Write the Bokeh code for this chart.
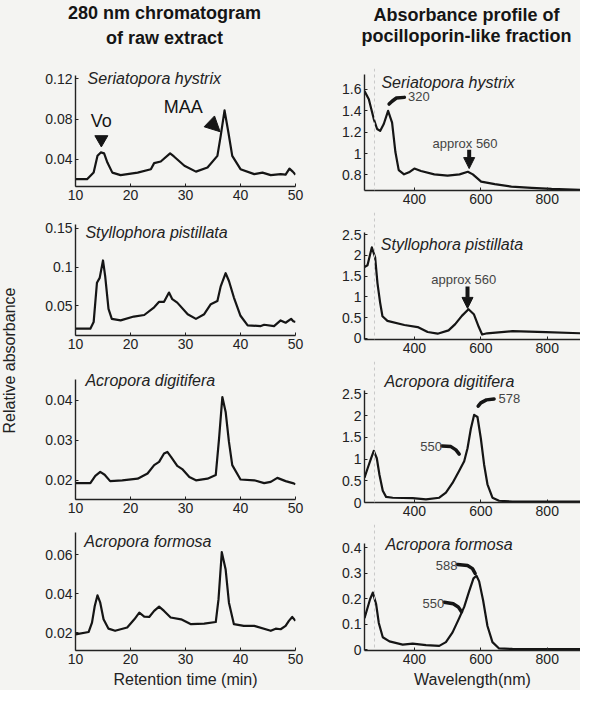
import math
from bokeh.plotting import figure
from bokeh.layouts import column, row
from bokeh.models import Range1d, FixedTicker, CustomJSTickFormatter, Label, Arrow, NormalHead, Span
from bokeh.embed import file_html
from bokeh.resources import INLINE
from bokeh.core.properties import value

BG = "#f4f4f2"
INK = "#151515"
FONT = "Liberation Sans"

# ---------------- data: 280 nm chromatograms (retention time, min) ----------------
sh_time = [10, 12.1, 13.3, 14.0, 14.6, 15.2, 15.8, 16.7, 18.2, 21.3, 23.7, 24.3, 25.5, 27.2, 27.9,
           29.8, 31.9, 34.0, 35.8, 36.4, 37.1, 37.8, 38.5, 40.0, 42.5, 44.0, 45.5, 47.3, 48.2, 48.9, 49.5, 50]
sh_abs = [0.0205, 0.0205, 0.0272, 0.0436, 0.047, 0.046, 0.037, 0.027, 0.0245, 0.027, 0.0304, 0.0364, 0.038,
          0.046, 0.043, 0.0338, 0.028, 0.032, 0.0436, 0.0634, 0.0885, 0.0667, 0.0436, 0.0304, 0.0255, 0.027,
          0.0245, 0.0255, 0.025, 0.031, 0.028, 0.025]

sp_time = [10, 12.7, 13.3, 13.9, 14.4, 15.0, 15.4, 16.0, 16.6, 18.2, 20.6, 22.5, 24.3, 25.2, 26.1, 27.0, 27.6,
           28.5, 30.4, 31.9, 33.4, 34.6, 35.8, 36.4, 37.3, 37.9, 38.8, 40.0, 41.3, 43.7, 44.3, 46.1, 47.3, 48.2,
           49.2, 49.6, 50]
sp_abs = [0.0203, 0.0203, 0.0288, 0.0797, 0.086, 0.1085, 0.088, 0.046, 0.033, 0.031, 0.036, 0.038, 0.048, 0.055,
          0.055, 0.067, 0.0585, 0.054, 0.039, 0.033, 0.039, 0.052, 0.056, 0.075, 0.092, 0.082, 0.0606, 0.037,
          0.0246, 0.0237, 0.0254, 0.0237, 0.031, 0.028, 0.033, 0.03, 0.029]

ad_time = [10, 12.7, 13.6, 14.5, 15.3, 16.3, 18.5, 21.3, 23.1, 24.3, 25.2, 26.1, 26.7, 27.4, 28.5, 29.4, 30.7,
           31.9, 34.0, 35.5, 36.1, 36.7, 37.3, 37.9, 38.5, 40.0, 42.5, 44.3, 45.5, 46.7, 48.2, 49.5, 50]
ad_abs = [0.0193, 0.0193, 0.0211, 0.0221, 0.0214, 0.0198, 0.020, 0.0204, 0.0217, 0.0238, 0.0246, 0.0267, 0.0271,
          0.0258, 0.0236, 0.0228, 0.0208, 0.020, 0.0204, 0.0213, 0.0304, 0.0408, 0.0371, 0.0296, 0.0238, 0.0202,
          0.020, 0.0193, 0.0196, 0.0206, 0.0198, 0.0193, 0.019]

af_time = [10, 12.4, 13.0, 13.5, 14.0, 14.5, 15.1, 16.0, 17.2, 19.4, 20.7, 21.6, 22.5, 23.4, 24.3, 25.2, 26.1,
           27.3, 29.2, 31.0, 33.4, 35.5, 36.0, 36.6, 37.3, 37.9, 38.8, 40.6, 42.5, 45.5, 46.4, 47.3, 48.2, 48.8,
           49.4, 50]
af_abs = [0.0191, 0.0203, 0.0251, 0.0336, 0.0391, 0.0353, 0.0268, 0.022, 0.0209, 0.0226, 0.0268, 0.0302, 0.0282,
          0.028, 0.0311, 0.0333, 0.0311, 0.0277, 0.0268, 0.0243, 0.0246, 0.0254, 0.037, 0.0612, 0.0523, 0.0353,
          0.0243, 0.0234, 0.0234, 0.0209, 0.022, 0.0217, 0.0234, 0.026, 0.028, 0.026]

# ---------------- data: absorbance profiles (wavelength, nm) ----------------
sh_wl = [250, 263, 278, 288, 297, 308, 321, 333, 343, 353, 369, 384, 400, 420, 460, 500, 536, 561, 576, 601,
         642, 692, 753, 813, 900]
sh_od = [1.585, 1.508, 1.323, 1.23, 1.212, 1.277, 1.40, 1.29, 1.015, 0.846, 0.806, 0.825, 0.86, 0.837, 0.806,
         0.794, 0.806, 0.83, 0.806, 0.738, 0.714, 0.692, 0.68, 0.67, 0.662]

sp_wl = [250, 259, 272, 282, 289, 297, 304, 319, 370, 410, 440, 470, 503, 523, 543, 563, 579, 594, 604, 619,
         695, 796, 900]
sp_od = [1.72, 1.76, 2.19, 1.95, 1.33, 0.86, 0.53, 0.42, 0.32, 0.27, 0.15, 0.11, 0.19, 0.34, 0.54, 0.70, 0.58,
         0.27, 0.09, 0.12, 0.17, 0.15, 0.12]

ad_wl = [250, 260, 270, 278, 287, 295, 305, 315, 335, 395, 435, 475, 495, 515, 535, 550, 560, 570, 580, 590,
         600, 610, 620, 635, 655, 695, 795, 900]
ad_od = [0.57, 0.80, 1.02, 1.19, 1.02, 0.64, 0.27, 0.13, 0.11, 0.10, 0.07, 0.11, 0.23, 0.45, 0.73, 0.95, 1.25,
         1.70, 2.02, 1.97, 1.48, 0.87, 0.42, 0.11, 0.04, 0.02, 0.02, 0.02]

af_wl = [250, 257, 267, 275, 285, 293, 305, 325, 365, 395, 435, 475, 495, 515, 535, 550, 565, 578, 587, 595,
         607, 620, 635, 655, 695, 900]
af_od = [0.125, 0.156, 0.20, 0.225, 0.18, 0.106, 0.05, 0.034, 0.021, 0.025, 0.019, 0.016, 0.031, 0.069, 0.125,
         0.169, 0.231, 0.281, 0.291, 0.269, 0.194, 0.094, 0.031, 0.006, 0.004, 0.003]

species = ["Seriatopora hystrix", "Styllophora pistillata", "Acropora digitifera", "Acropora formosa"]

# ticks
time_ticks = [10, 20, 30, 40, 50]
time_labels = ["10", "20", "30", "40", "50"]
wl_ticks = [400, 600, 800]
wl_labels = ["400", "600", "800"]
yl_ticks = [[0.04, 0.08, 0.12], [0.05, 0.1, 0.15], [0.02, 0.03, 0.04], [0.02, 0.04, 0.06]]
yl_labels = [["0.04", "0.08", "0.12"], ["0.05", "0.1", "0.15"], ["0.02", "0.03", "0.04"], ["0.02", "0.04", "0.06"]]
yr_ticks = [[0.8, 1.0, 1.2, 1.4, 1.6], [0, 0.5, 1, 1.5, 2, 2.5], [0, 0.5, 1, 1.5, 2, 2.5], [0, 0.1, 0.2, 0.3, 0.4]]
yr_labels = [["0.8", "1", "1.2", "1.4", "1.6"], ["0", "0.5", "1", "1.5", "2", "2.5"],
             ["0", "0.5", "1", "1.5", "2", "2.5"], ["0", "0.1", "0.2", "0.3", "0.4"]]


def fmt(ticks, labels):
    return CustomJSTickFormatter(args=dict(t=ticks, l=labels), code="""
let b = 0;
for (let i = 0; i < t.length; i++) { if (Math.abs(t[i] - tick) < Math.abs(t[b] - tick)) b = i; }
return l[b];""")


def panel(w, h, bt, bb, bl, br, xr, yr, xt, xl, yt, yl):
    # frame extends to the top of the figure; the y axis line stops at yr[1] (bt px below the top)
    fh = h - bt - bb
    ppu = fh / (yr[1] - yr[0])
    ytop = yr[1] + bt / ppu
    p = figure(width=w, height=h, x_range=Range1d(*xr), y_range=Range1d(yr[0], ytop),
               output_backend="svg", toolbar_location=None,
               min_border_top=0, min_border_bottom=bb, min_border_left=bl, min_border_right=br)
    p.background_fill_color = BG
    p.border_fill_color = BG
    p.outline_line_color = None
    p.grid.visible = False
    p.xaxis.ticker = FixedTicker(ticks=xt)
    p.xaxis.formatter = fmt(xt, xl)
    p.yaxis.ticker = FixedTicker(ticks=yt)
    p.yaxis.formatter = fmt(yt, yl)
    p.yaxis.bounds = (yr[0], yr[1])
    for ax in (p.xaxis[0], p.yaxis[0]):
        ax.axis_line_color = "#222222"
        ax.axis_line_width = 1.4
        ax.major_tick_in = 3
        ax.major_tick_out = 0
        ax.major_tick_line_color = "#222222"
        ax.minor_tick_line_color = None
        ax.major_label_text_font = FONT
        ax.major_label_text_font_size = "14px"
        ax.major_label_text_color = "#222222"
        ax.major_label_standoff = 3
    return p


def species_label(p, x, y, text):
    p.add_layout(Label(x=x, y=y, text=text, text_font=FONT, text_font_style="italic",
                       text_font_size="16px", text_color="#222222", text_baseline="middle", text_align="left"))


def note(p, x, y, text, align="left", size="13px"):
    p.add_layout(Label(x=x, y=y, text=text, text_font=FONT, text_font_size=size,
                       text_color="#444444", text_baseline="middle", text_align=align))


def axis_title(p, text):
    p.xaxis.axis_label = text
    p.xaxis.axis_label_text_font = FONT
    p.xaxis.axis_label_text_font_size = "16px"
    p.xaxis.axis_label_text_font_style = "normal"
    p.xaxis.axis_label_text_color = "#222222"
    p.xaxis.axis_label_standoff = 4


def head(size):
    return NormalHead(size=size, fill_color=INK, line_color=INK)


# ---------------- left column ----------------
LW, LBL, LBR = 290, 48, 22
l1 = panel(LW, 140, 7, 22, LBL, LBR, (10, 50), (0.0133, 0.123), time_ticks, time_labels, yl_ticks[0], yl_labels[0])
l2 = panel(LW, 149, 16, 22, LBL, LBR, (10, 50), (0.0115, 0.155), time_ticks, time_labels, yl_ticks[1], yl_labels[1])
l3 = panel(LW, 164, 22, 22, LBL, LBR, (10, 50), (0.0152, 0.0452), time_ticks, time_labels, yl_ticks[2], yl_labels[2])
l4 = panel(LW, 169, 11, 40, LBL, LBR, (10, 50), (0.0108, 0.0713), time_ticks, time_labels, yl_ticks[3], yl_labels[3])
axis_title(l4, "Retention time (min)")

for p, t, a in ((l1, sh_time, sh_abs), (l2, sp_time, sp_abs), (l3, ad_time, ad_abs), (l4, af_time, af_abs)):
    p.line(t, a, line_color=INK, line_width=2.2, line_join="round")

species_label(l1, 12.2, 0.120, species[0])
species_label(l2, 11.8, 0.145, species[1])
species_label(l3, 11.8, 0.0450, species[2])
species_label(l4, 11.6, 0.0667, species[3])

# Vo and MAA markers
l1.add_layout(Label(x=14.7, y=0.0785, text="Vo", text_font=FONT, text_font_size="18px", text_color=INK,
                    text_align="center", text_baseline="middle"))
l1.scatter(x=[14.7], y=[0.0598], marker="inverted_triangle", size=13, color=INK)
l1.add_layout(Label(x=29.6, y=0.0914, text="MAA", text_font=FONT, text_font_size="18px", text_color=INK,
                    text_align="center", text_baseline="middle"))
l1.add_layout(Arrow(end=head(15), x_start=33.6, y_start=0.0815, x_end=36.3, y_end=0.0674,
                    line_alpha=0, line_width=0.1))

# ---------------- right column ----------------
RW, RBL, RBR = 263, 47, 0
r1 = panel(RW, 144, 6, 22, RBL, RBR, (250, 900), (0.655, 1.74), wl_ticks, wl_labels, yr_ticks[0], yr_labels[0])
r2 = panel(RW, 149, 20, 22, RBL, RBR, (250, 900), (-0.03, 2.55), wl_ticks, wl_labels, yr_ticks[1], yr_labels[1])
r3 = panel(RW, 163, 29, 22, RBL, RBR, (250, 900), (0.0, 2.58), wl_ticks, wl_labels, yr_ticks[2], yr_labels[2])
r4 = panel(RW, 166, 20, 36, RBL, RBR, (250, 900), (-0.002, 0.416), wl_ticks, wl_labels, yr_ticks[3], yr_labels[3])
axis_title(r4, "Wavelength(nm)")

for p in (r1, r2, r3, r4):
    p.add_layout(Span(location=280, dimension="height", line_color="#c8c8c8", line_dash="3 3", line_width=1))

for p, w, o in ((r1, sh_wl, sh_od), (r2, sp_wl, sp_od), (r3, ad_wl, ad_od), (r4, af_wl, af_od)):
    p.line(w, o, line_color=INK, line_width=2.2, line_join="round")

species_label(r1, 301, 1.665, species[0])
species_label(r2, 299, 2.26, species[1])
species_label(r3, 310, 2.78, species[2])
species_label(r4, 313, 0.4125, species[3])

# r1 annotations
note(r1, 381, 1.53, "320")
r1.line([370, 346, 333, 324], [1.526, 1.52, 1.49, 1.463], line_color=INK, line_width=3.5, line_cap="round")
note(r1, 558, 1.09, "approx  560", align="center")
r1.add_layout(Arrow(end=head(11), x_start=565, y_start=1.035, x_end=565, y_end=0.86, line_color=INK, line_width=4))

# r2 annotations
note(r2, 554, 1.41, "approx  560", align="center")
r2.add_layout(Arrow(end=head(11), x_start=560, y_start=1.25, x_end=560, y_end=0.72, line_color=INK, line_width=4))

# r3 annotations
note(r3, 653, 2.40, "578")
r3.line([640, 617, 600, 592], [2.386, 2.364, 2.295, 2.22], line_color=INK, line_width=3.5, line_cap="round")
note(r3, 483, 1.29, "550", align="right")
r3.line([483, 510, 525, 535], [1.303, 1.288, 1.212, 1.114], line_color=INK, line_width=3.5, line_cap="round")

# r4 annotations
note(r4, 530, 0.331, "588", align="right")
r4.line([530, 560, 575, 583], [0.335, 0.331, 0.319, 0.30], line_color=INK, line_width=3.5, line_cap="round")
note(r4, 490, 0.181, "550", align="right")
r4.line([490, 517, 532, 542], [0.1875, 0.181, 0.169, 0.15], line_color=INK, line_width=3.5, line_cap="round")


# ---------------- header and side label ----------------
def blank(w, h):
    p = figure(width=w, height=h, x_range=Range1d(0, w), y_range=Range1d(0, h), output_backend="svg",
               toolbar_location=None, min_border=0, x_axis_location=None, y_axis_location=None)
    p.min_border_left = p.min_border_right = p.min_border_top = p.min_border_bottom = 0
    p.background_fill_color = BG
    p.border_fill_color = BG
    p.outline_line_color = None
    p.grid.visible = False
    return p


header = blank(580, 68)
header.text(x=[164, 164, 466, 466], y=[56, 31, 54, 33],
            text=["280 nm chromatogram", "of raw extract", "Absorbance profile of", "pocilloporin-like fraction"],
            text_font=value(FONT), text_font_style="bold", text_font_size="18px", text_color=INK,
            text_align="center", text_baseline="middle")

side = blank(27, 622)
side.text(x=[9], y=[330], text=["Relative absorbance"], text_font=value(FONT), text_font_size="16px",
          text_color="#222222", text_align="center", text_baseline="middle", angle=math.pi / 2)

css = {"background-color": BG}
left_col = column(l1, l2, l3, l4, spacing=0, styles=css)
right_col = column(r1, r2, r3, r4, spacing=0, styles=css)
body = row(side, left_col, right_col, spacing=0, styles=css)
layout = column(header, body, spacing=0, styles=css)

open("out.html", "w").write(file_html(layout, INLINE))
